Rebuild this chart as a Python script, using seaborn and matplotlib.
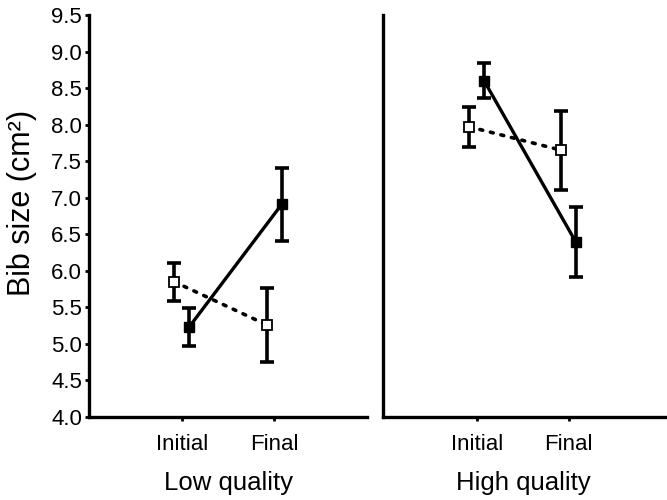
import matplotlib
matplotlib.use("Agg")
import matplotlib.pyplot as plt
import seaborn as sns
import pandas as pd

# data (mean +/- error)
conditions = ["Initial", "Final"]
groups = ["Low quality", "High quality"]

low_open = [5.85, 5.26]
low_open_err = [0.26, 0.51]
low_filled = [5.23, 6.91]
low_filled_err = [0.26, 0.50]

high_open = [7.97, 7.65]
high_open_err = [0.27, 0.54]
high_filled = [8.60, 6.39]
high_filled_err = [0.24, 0.48]

yticks = [4.0, 4.5, 5.0, 5.5, 6.0, 6.5, 7.0, 7.5, 8.0, 8.5, 9.0, 9.5]

sns.set_style("white")
plt.rcParams["font.family"] = ["Liberation Sans", "DejaVu Sans"]
plt.rcParams["text.color"] = "black"
plt.rcParams["axes.labelcolor"] = "black"
plt.rcParams["xtick.color"] = "black"
plt.rcParams["ytick.color"] = "black"

fig = plt.figure(figsize=(6.67, 5), dpi=100)
ax1 = fig.add_axes([0.1334, 0.166, 0.4168, 0.804])
ax2 = fig.add_axes([0.5742, 0.166, 0.4258, 0.804])

panels = [
    (ax1, low_open, low_open_err, low_filled, low_filled_err, (0, 3.0)),
    (ax2, high_open, high_open_err, high_filled, high_filled_err, (-0.02, 3.07)),
]

shift = 0.08
for ax, op, op_err, fi, fi_err, xl in panels:
    pos = [1, 2]
    x_open = [pos[0] - shift, pos[1] - shift]
    x_fill = [pos[0] + shift, pos[1] + shift]
    df = pd.DataFrame({"x": x_open + x_fill, "y": op + fi,
                       "kind": ["open"] * 2 + ["filled"] * 2})

    ax.errorbar(x_open, op, yerr=op_err, fmt="none", ecolor="black",
                elinewidth=2.6, capsize=5, capthick=2.6, zorder=2)
    ax.errorbar(x_fill, fi, yerr=fi_err, fmt="none", ecolor="black",
                elinewidth=2.6, capsize=5, capthick=2.6, zorder=2)

    sns.lineplot(data=df[df.kind == "open"], x="x", y="y", ax=ax,
                 color="black", lw=2.6, linestyle=(0, (0.8, 2.2)),
                 dash_capstyle="round", zorder=3, legend=False)
    sns.lineplot(data=df[df.kind == "filled"], x="x", y="y", ax=ax,
                 color="black", lw=2.4, zorder=3, legend=False)

    ax.plot(x_open, op, ls="none", marker="s", ms=7.5, mfc="white",
            mec="black", mew=1.3, zorder=4)
    ax.plot(x_fill, fi, ls="none", marker="s", ms=7.5, mfc="black",
            mec="black", zorder=4)

    ax.set_xlim(*xl)
    ax.set_ylim(4.0, 9.5)
    ax.set_xticks(pos)
    ax.set_xticklabels(conditions, fontsize=16)
    ax.set_xlabel("")
    ax.set_ylabel("")
    for s in ["top", "right"]:
        ax.spines[s].set_visible(False)
    for s in ["left", "bottom"]:
        ax.spines[s].set_linewidth(2.4)
        ax.spines[s].set_color("black")
    ax.tick_params(axis="x", length=3, width=2, color="black", pad=9,
                   bottom=True)

ax1.set_yticks(yticks)
ax1.set_yticklabels([f"{v:.1f}" for v in yticks], fontsize=16)
ax1.tick_params(axis="y", length=3, width=2, color="black", pad=2, left=True)
ax1.set_ylabel("Bib size (cm²)", fontsize=22)
ax1.yaxis.set_label_coords(-0.187, 0.532)

ax2.set_yticks([])

fig.text(228 / 667, 1 - 483 / 500, groups[0], fontsize=18.5,
         ha="center", va="center")
fig.text(523 / 667, 1 - 483 / 500, groups[1], fontsize=18.5,
         ha="center", va="center")

fig.savefig("out.png", dpi=100)
